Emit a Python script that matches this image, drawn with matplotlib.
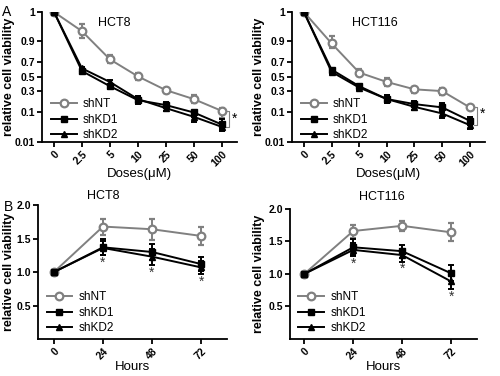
import numpy as np
import matplotlib
matplotlib.use('Agg')
import matplotlib.pyplot as plt

plt.rcParams['font.family'] = ['Liberation Sans', 'DejaVu Sans']

# dose-response data (panel A)
doses = ['0', '2.5', '5', '10', '25', '50', '100']
hct8_nt = [1.0, 0.934, 0.726, 0.51, 0.314, 0.224, 0.112]
hct8_kd1 = [1.0, 0.58, 0.37, 0.214, 0.167, 0.099, 0.063]
hct8_kd2 = [1.0, 0.616, 0.43, 0.224, 0.138, 0.086, 0.056]
hct8_nt_err = [0, 0.025, 0.045, 0.05, 0.03, 0.04, 0.03]
hct8_kd1_err = [0, 0.02, 0.035, 0.035, 0.025, 0.015, 0.015]
hct8_kd2_err = [0, 0.02, 0.035, 0.025, 0.03, 0.015, 0.012]

hct116_nt = [1.0, 0.878, 0.56, 0.43, 0.325, 0.30, 0.145]
hct116_kd1 = [1.0, 0.60, 0.37, 0.224, 0.176, 0.145, 0.074]
hct116_kd2 = [1.0, 0.57, 0.35, 0.224, 0.15, 0.096, 0.061]
hct116_nt_err = [0, 0.04, 0.045, 0.055, 0.04, 0.04, 0.015]
hct116_kd1_err = [0, 0.025, 0.035, 0.035, 0.025, 0.045, 0.012]
hct116_kd2_err = [0, 0.025, 0.035, 0.035, 0.03, 0.015, 0.012]

# time course data (panel B)
hours = [0, 24, 48, 72]
b8_nt = [1.0, 1.68, 1.64, 1.54]
b8_kd1 = [1.0, 1.37, 1.30, 1.12]
b8_kd2 = [1.0, 1.36, 1.23, 1.07]
b8_nt_err = [0, 0.12, 0.16, 0.14]
b8_kd1_err = [0, 0.12, 0.12, 0.10]
b8_kd2_err = [0, 0.10, 0.12, 0.10]

b116_nt = [1.0, 1.66, 1.74, 1.64]
b116_kd1 = [1.0, 1.41, 1.35, 1.01]
b116_kd2 = [1.0, 1.37, 1.29, 0.885]
b116_nt_err = [0, 0.10, 0.08, 0.14]
b116_kd1_err = [0, 0.12, 0.10, 0.12]
b116_kd2_err = [0, 0.10, 0.10, 0.12]

# odd y axis of panel A: tick values and where they sit
ytick_vals = [0.01, 0.1, 0.3, 0.5, 0.7, 0.9, 1.0]
ytick_pos = [0, 30, 51, 65, 80, 101, 130]

def fwd(v):
    return np.interp(v, ytick_vals, ytick_pos)

def inv(p):
    return np.interp(p, ytick_pos, ytick_vals)

GRAY = '#808080'

fig = plt.figure(figsize=(5, 3.76), dpi=100)

def style(ax):
    for s in ['top', 'right']:
        ax.spines[s].set_visible(False)
    for s in ['left', 'bottom']:
        ax.spines[s].set_linewidth(1.3)
    ax.tick_params(width=1.3, length=3.5, labelsize=7.5, pad=1.5)
    for lab in ax.get_xticklabels() + ax.get_yticklabels():
        lab.set_fontweight('bold')

def draw(ax, x, nt, kd1, kd2, nte, kd1e, kd2e):
    kw = dict(lw=1.4, capsize=2.5, elinewidth=1.4, capthick=1.4)
    ax.errorbar(x, nt, yerr=nte, color=GRAY, marker='o', mfc='white', mec=GRAY,
                mew=1.6, ms=5.5, label='shNT', **kw)
    ax.errorbar(x, kd1, yerr=kd1e, color='black', marker='s', ms=5, label='shKD1', **kw)
    ax.errorbar(x, kd2, yerr=kd2e, color='black', marker='^', ms=5, label='shKD2', **kw)

def legend(ax, y0):
    handles, labels = ax.get_legend_handles_labels()
    handles = [h[0] for h in handles]
    ax.legend(handles, labels, loc='lower left', bbox_to_anchor=(0.02, y0), frameon=False,
              fontsize=8.5, handlelength=2.2, handletextpad=0.5, labelspacing=0.3,
              borderaxespad=0)

# panel A
top_specs = [
    ([0.084, 0.622, 0.39, 0.346], 'HCT8', 0.37, -0.138, hct8_nt, hct8_kd1, hct8_kd2,
     hct8_nt_err, hct8_kd1_err, hct8_kd2_err),
    ([0.584, 0.622, 0.386, 0.346], 'HCT116', 0.43, -0.14, hct116_nt, hct116_kd1, hct116_kd2,
     hct116_nt_err, hct116_kd1_err, hct116_kd2_err),
]
for rect, name, tx, lx, nt, kd1, kd2, nte, kd1e, kd2e in top_specs:
    ax = fig.add_axes(rect)
    ax.set_yscale('function', functions=(fwd, inv))
    x = np.arange(len(doses))
    draw(ax, x, nt, kd1, kd2, nte, kd1e, kd2e)
    ax.set_xlim(-0.43, 6.55)
    ax.set_ylim(0.01, 1.0)
    ax.set_yticks(ytick_vals)
    ax.set_yticklabels([('%g' % v) for v in ytick_vals])
    ax.yaxis.set_minor_locator(matplotlib.ticker.NullLocator())
    ax.set_xticks(x)
    ax.set_xticklabels(doses, rotation=45, ha='right', rotation_mode='anchor')
    ax.set_xlabel('Doses(μM)', fontsize=9.5, labelpad=0)
    ax.set_ylabel('relative cell viability', fontsize=9, fontweight='bold')
    ax.yaxis.set_label_coords(lx, 0.5)
    ax.text(tx, 0.915, name, transform=ax.transAxes, fontsize=9, ha='center', va='center')
    style(ax)
    legend(ax, -0.03)
    # significance bracket at the last dose
    lo = min(kd1[-1], kd2[-1])
    hi = nt[-1]
    ax.plot([6.15, 6.25, 6.25, 6.15], [hi, hi, lo, lo], color=GRAY, lw=0.8, clip_on=False)
    ax.text(6.38, np.sqrt(hi * lo), '*', fontsize=10, ha='left', va='center')

# panel B
bot_specs = [
    ([0.076, 0.0984, 0.378, 0.356], 'HCT8', 0.344, 1.07, -7.8, -0.122, b8_nt, b8_kd1, b8_kd2,
     b8_nt_err, b8_kd1_err, b8_kd2_err),
    ([0.58, 0.0984, 0.374, 0.346], 'HCT116', 0.49, 1.09, -7.0, -0.134, b116_nt, b116_kd1, b116_kd2,
     b116_nt_err, b116_kd1_err, b116_kd2_err),
]
for rect, name, tx, ty, xl, lx, nt, kd1, kd2, nte, kd1e, kd2e in bot_specs:
    ax = fig.add_axes(rect)
    draw(ax, hours, nt, kd1, kd2, nte, kd1e, kd2e)
    ax.set_xlim(xl, 84.7)
    ax.set_ylim(0, 2.0)
    ax.set_yticks([0.5, 1.0, 1.5, 2.0])
    ax.set_yticklabels(['0.5', '1.0', '1.5', '2.0'])
    ax.set_xticks(hours)
    ax.set_xticklabels([str(h) for h in hours], rotation=45, ha='right', rotation_mode='anchor')
    ax.set_xlabel('Hours', fontsize=9.5, labelpad=0)
    ax.set_ylabel('relative cell viability', fontsize=9, fontweight='bold')
    ax.yaxis.set_label_coords(lx, 0.5)
    ax.text(tx, ty, name, transform=ax.transAxes, fontsize=9, ha='center', va='center')
    style(ax)
    legend(ax, 0.0)
    for i in range(1, len(hours)):
        low = min(kd1[i] - kd1e[i], kd2[i] - kd2e[i])
        ax.text(hours[i], low - 0.01, '*', fontsize=10, ha='center', va='top', color='#333333')

fig.text(0.004, 0.968, 'A', fontsize=10, va='center')
fig.text(0.008, 0.45, 'B', fontsize=10, va='center')

fig.savefig('out.png', dpi=100)
